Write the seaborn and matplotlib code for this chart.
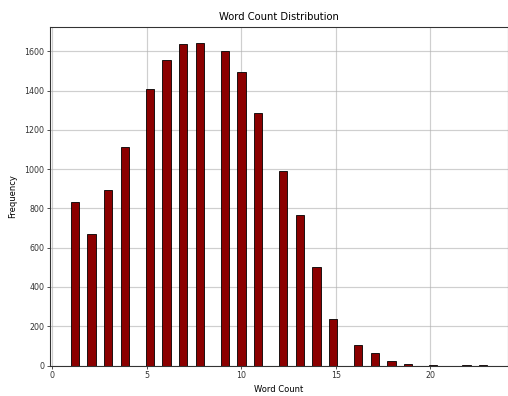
import matplotlib
matplotlib.use("Agg")
import matplotlib.pyplot as plt
import seaborn as sns

# word count values and how often each one occurs
word_counts = list(range(1, 24))
frequencies = [834, 669, 893, 1113, 1411, 1555, 1636, 1645, 1602, 1497, 1289,
               991, 769, 500, 238, 104, 62, 23, 6, 3, 0, 2, 2]

plt.rcParams["font.family"] = ["DejaVu Sans"]

DPI = 60
fig = plt.figure(figsize=(509 / DPI, 396 / DPI), dpi=DPI)
ax = fig.add_axes([50 / 509, 30.5 / 396, 458 / 509, 339 / 396])

sns.histplot(x=word_counts, weights=frequencies, bins=50, binrange=(1, 23),
             color="darkred", edgecolor="black", linewidth=1.0, alpha=1.0, ax=ax)

ax.set_title("Word Count Distribution", fontsize=12, pad=8)
ax.set_xlabel("Word Count", fontsize=10, labelpad=6)
ax.set_ylabel("Frequency", fontsize=10, labelpad=9)
ax.tick_params(labelsize=9.5, width=1.0, colors="#333333")
ax.grid(True, color="#b0b0b0", linewidth=1.4, alpha=0.6)
ax.set_axisbelow(True)
for s in ax.spines.values():
    s.set_linewidth(1.3)
    s.set_color("#333333")

fig.savefig("out.png", dpi=DPI)
plt.close(fig)
